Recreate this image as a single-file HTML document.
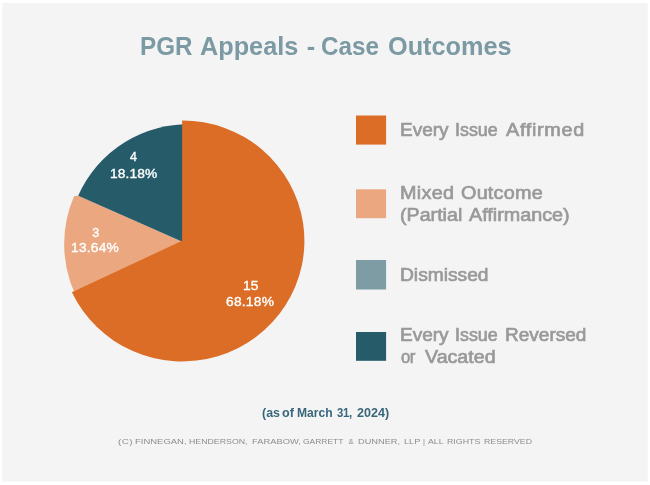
<!DOCTYPE html>
<html lang="en">
<head>
<meta charset="utf-8">
<title>PGR Appeals - Case Outcomes</title>
<style>
html,body{margin:0;padding:0;background:#fff;}
body{width:650px;height:485px;overflow:hidden;position:relative;font-family:"Liberation Sans",sans-serif;}
#chart{position:absolute;left:0;top:0;width:650px;height:485px;}
.t{position:absolute;left:0;width:650px;height:20px;line-height:20px;margin:0;padding:0;white-space:nowrap;}
.t span{position:absolute;top:0;white-space:pre;transform-origin:0 50%;}
.ti{font-size:25.4px;font-weight:bold;color:#7c9aa3;}
.lg{font-size:18px;font-weight:normal;color:#999999;-webkit-text-stroke:0.65px #999999;}
.pl{font-size:12.5px;font-weight:normal;color:#ffffff;-webkit-text-stroke:0.35px #ffffff;}
.as{font-size:12.2px;font-weight:bold;color:#38667b;}
.ft{font-size:7.6px;font-weight:normal;color:#8c8c8c;}
</style>
</head>
<body>
<svg id="chart" viewBox="0 0 650 485" width="650" height="485">
<rect x="2.4" y="2.9" width="645.30" height="478.60" fill="#f4f4f4"/>
<path d="M184.15 244.00L82.38 307.59A120.0 120.0 0 0 1 74.19 195.96L78.20 195.77L188.00 244.20Z" fill="#eba880"/>
<path d="M188.00 244.20L78.20 195.77A120.0 120.0 0 0 1 194.28 124.36Z" fill="#265c6a"/>
<path d="M182.10 240.70L182.10 120.40A122.1 120.5 0 1 1 71.88 292.33Z" fill="#dc6d26"/>
<rect x="356.0" y="115.5" width="30.10" height="29.10" fill="#dc6d26"/>
<rect x="356.0" y="189.3" width="30.10" height="28.90" fill="#eba880"/>
<rect x="356.0" y="260.0" width="30.10" height="29.50" fill="#7d9ca4"/>
<rect x="356.0" y="332.0" width="30.10" height="28.80" fill="#265c6a"/>
</svg>
<h1 class="t ti" style="top:36.40px"><span style="left:139.89px;letter-spacing:0.000px;transform:scaleX(0.9534);">PGR</span> <span style="left:200.41px;letter-spacing:0.000px;transform:scaleX(0.9950);">Appeals</span> <span style="left:306.68px;letter-spacing:0.000px;">-</span> <span style="left:321.04px;letter-spacing:0.000px;transform:scaleX(0.9562);">Case</span> <span style="left:387.51px;letter-spacing:0.000px;transform:scaleX(0.9960);">Outcomes</span></h1>
<div class="t lg" style="top:119.96px"><span style="left:400.36px;letter-spacing:0.000px;transform:scaleX(1.0548);">Every</span> <span style="left:455.43px;letter-spacing:0.000px;transform:scaleX(0.9918);">Issue</span> <span style="left:505.76px;letter-spacing:0.624px;transform:scaleX(1.1000);">Affirmed</span></div>
<div class="t lg" style="top:182.96px"><span style="left:400.31px;letter-spacing:0.271px;transform:scaleX(1.1000);">Mixed</span> <span style="left:460.63px;letter-spacing:0.204px;transform:scaleX(1.1000);">Outcome</span></div>
<div class="t lg" style="top:204.96px"><span style="left:400.23px;letter-spacing:0.000px;transform:scaleX(1.0921);">(Partial</span> <span style="left:468.86px;letter-spacing:0.000px;transform:scaleX(1.0979);">Affirmance)</span></div>
<div class="t lg" style="top:264.96px"><span style="left:400.35px;letter-spacing:0.000px;transform:scaleX(1.0664);">Dismissed</span></div>
<div class="t lg" style="top:324.96px"><span style="left:400.36px;letter-spacing:0.000px;transform:scaleX(1.0548);">Every</span> <span style="left:455.43px;letter-spacing:0.000px;transform:scaleX(0.9918);">Issue</span> <span style="left:505.06px;letter-spacing:0.000px;transform:scaleX(1.0567);">Reversed</span></div>
<div class="t lg" style="top:346.96px"><span style="left:400.69px;letter-spacing:-0.600px;transform:scaleX(0.9300);">or</span> <span style="left:424.85px;letter-spacing:0.000px;transform:scaleX(1.0902);">Vacated</span></div>
<div class="t pl" style="top:146.87px"><span style="left:130.07px;letter-spacing:0.000px;">4</span></div>
<div class="t pl" style="top:163.87px"><span style="left:109.65px;letter-spacing:0.130px;transform:scaleX(1.1000);">18.18%</span></div>
<div class="t pl" style="top:222.87px"><span style="left:92.35px;letter-spacing:0.000px;">3</span></div>
<div class="t pl" style="top:237.87px"><span style="left:71.45px;letter-spacing:0.221px;transform:scaleX(1.1000);">13.64%</span></div>
<div class="t pl" style="top:275.87px"><span style="left:242.95px;letter-spacing:0.048px;transform:scaleX(1.1000);">15</span></div>
<div class="t pl" style="top:291.87px"><span style="left:226.23px;letter-spacing:0.224px;transform:scaleX(1.1000);">68.18%</span></div>
<div class="t as" style="top:402.97px"><span style="left:261.99px;letter-spacing:0.000px;transform:scaleX(1.0213);">(as</span> <span style="left:281.83px;letter-spacing:0.000px;transform:scaleX(1.0358);">of</span> <span style="left:297.01px;letter-spacing:0.000px;transform:scaleX(0.9918);">March</span> <span style="left:336.97px;letter-spacing:-0.272px;transform:scaleX(0.9300);">31,</span> <span style="left:356.89px;letter-spacing:0.000px;transform:scaleX(1.0317);">2024)</span></div>
<div class="t ft" style="top:431.57px"><span style="left:118.02px;letter-spacing:0.319px;transform:scaleX(1.3000);">(C)</span> <span style="left:135.05px;letter-spacing:0.000px;transform:scaleX(1.2463);">FINNEGAN,</span> <span style="left:189.01px;letter-spacing:0.000px;transform:scaleX(1.1556);">HENDERSON,</span> <span style="left:252.46px;letter-spacing:0.000px;transform:scaleX(1.2333);">FARABOW,</span> <span style="left:303.41px;letter-spacing:0.000px;transform:scaleX(1.1139);">GARRETT</span> <span style="left:348.38px;letter-spacing:0.000px;">&amp;</span> <span style="left:357.57px;letter-spacing:0.000px;transform:scaleX(1.2140);">DUNNER,</span> <span style="left:403.57px;letter-spacing:-0.000px;transform:scaleX(1.2108);">LLP</span> <span style="left:423.07px;letter-spacing:0.000px;">|</span> <span style="left:428.10px;letter-spacing:0.000px;transform:scaleX(1.1583);">ALL</span> <span style="left:447.00px;letter-spacing:0.000px;transform:scaleX(1.1622);">RIGHTS</span> <span style="left:483.51px;letter-spacing:0.000px;transform:scaleX(1.1538);">RESERVED</span></div>
</body>
</html>
